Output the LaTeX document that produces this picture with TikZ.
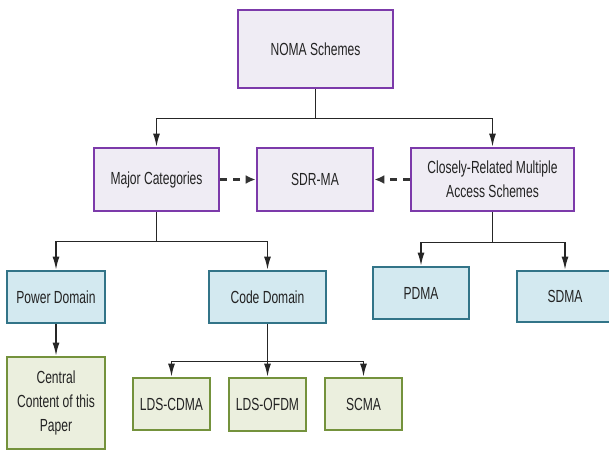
\documentclass[tikz,border=0pt]{standalone}
\usepackage{fontspec}
\setmainfont[FakeStretch=0.69]{Liberation Sans}
\usepackage{tikz}
\usetikzlibrary{arrows.meta}

\definecolor{purpleline}{RGB}{124,58,170}
\definecolor{purplefill}{RGB}{239,236,244}
\definecolor{blueline}{RGB}{50,116,136}
\definecolor{bluefill}{RGB}{211,233,240}
\definecolor{greenline}{RGB}{116,146,60}
\definecolor{greenfill}{RGB}{235,239,222}
\definecolor{textgray}{RGB}{35,35,35}

\tikzset{
  box/.style={rectangle, line width=2.8pt, inner sep=0pt, align=center,
    text=textgray, font=\fontsize{17.5}{24}\selectfont},
  topbox/.style={box, draw=purpleline, fill=purplefill},
  domainbox/.style={box, draw=blueline, fill=bluefill},
  leafbox/.style={box, draw=greenline, fill=greenfill},
  conn/.style={line width=1.4pt, draw=black!85, -{Latex[length=13pt,width=7pt]}},
  dashconn/.style={line width=2.4pt, draw=black!80, dash pattern=on 7pt off 6pt,
    -{Latex[length=10pt,width=9pt]}}
}

\begin{document}
\begin{tikzpicture}[x=1pt, y=-1pt]
      \useasboundingbox (0,0) rectangle (609,450);

      \node[topbox, minimum width=155pt, minimum height=78pt] (1) at (315.5, 49) {NOMA Schemes};

      \node[topbox, minimum width=125pt, minimum height=63pt] (2) at (156.5, 179.5) {Major Categories};
      \node[topbox, minimum width=116pt, minimum height=63pt] (3) at (315, 179.5) {SDR-MA};
      \node[topbox, minimum width=163pt, minimum height=63pt] (4) at (492.5, 179.5) {Closely-Related Multiple\\Access Schemes};

      \node[domainbox, minimum width=98pt, minimum height=52pt] (5) at (56, 297) {Power Domain};
      \node[domainbox, minimum width=117pt, minimum height=52pt] (6) at (267.5, 297) {Code Domain};
      \node[domainbox, minimum width=96pt, minimum height=52pt] (7) at (421, 293) {PDMA};
      \node[domainbox, minimum width=96pt, minimum height=51pt] (8) at (565, 296.5) {SDMA};

      \node[leafbox, minimum width=98pt, minimum height=92pt] (9) at (56, 403) {Central\\Content of this\\Paper};
      \node[leafbox, minimum width=77pt, minimum height=52pt] (10) at (171.5, 404) {LDS-CDMA};
      \node[leafbox, minimum width=77pt, minimum height=53pt] (11) at (267.5, 404.5) {LDS-OFDM};
      \node[leafbox, minimum width=77pt, minimum height=52pt] (12) at (363.5, 404) {SCMA};

      \draw[line width=1.4pt, black!85] (1.south) -- ++(0,29) coordinate (a);
      \draw[conn] (a) -| (2.north);
      \draw[conn] (a) -| (4.north);

      \draw[line width=1.4pt, black!85] (2.south) -- ++(0,29) coordinate (b);
      \draw[conn] (b) -| (5.north);
      \draw[conn] (b) -| (6.north);

      \draw[line width=1.4pt, black!85] (4.south) -- ++(0,30) coordinate (c);
      \draw[conn] (c) -| (7.north);
      \draw[conn] (c) -| (8.north);

      \draw[conn] (5) -- (9);

      \draw[conn] (6.south) -- ++(0,37) coordinate (d) -- (11.north);
      \draw[conn] (d) -| (10.north);
      \draw[conn] (d) -| (12.north);

      \draw[dashconn] (2) -- (3);
      \draw[dashconn] (4) -- (3);

    \end{tikzpicture}
\end{document}
